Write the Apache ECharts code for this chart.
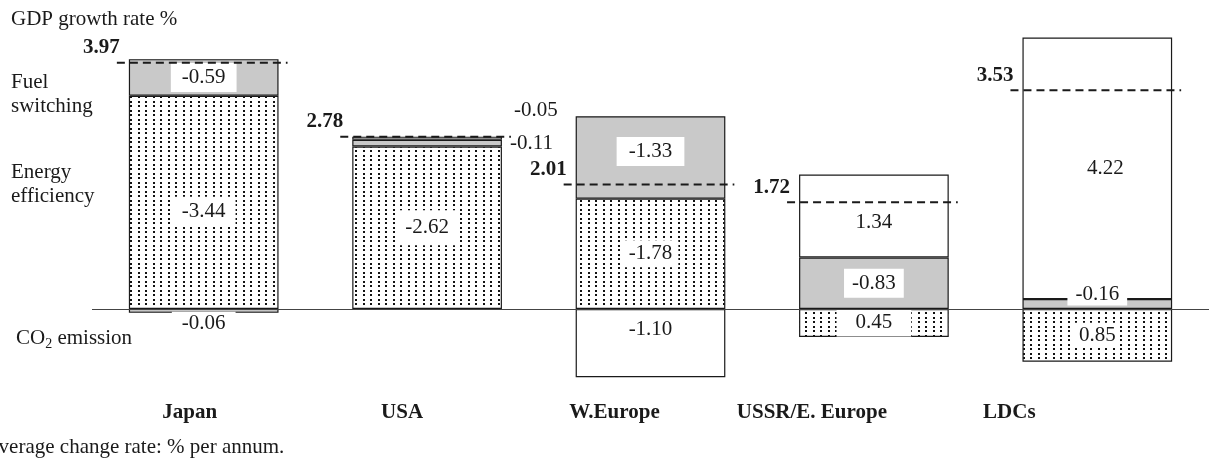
<!DOCTYPE html>
<html>
<head>
<meta charset="utf-8">
<style>
  html, body { margin: 0; padding: 0; background: #fff; }
  #chart { width: 1209px; height: 461px; }
</style>
<script src="https://cdn.jsdelivr.net/npm/echarts@6/dist/echarts.min.js"></script>
</head>
<body>
<div id="chart"></div>
<script>
  const categories = ['Japan', 'USA', 'W.Europe', 'USSR/E. Europe', 'LDCs'];
  const gdpGrowth = [3.97, 2.78, 2.01, 1.72, 3.53];

  // segment heights as drawn: above the zero line positive, below negative
  const energyEfficiency = [3.44, 2.62, 1.78, -0.45, -0.85];
  const fuelSwitching = [0.59, 0.11, 1.33, 0.83, 0.16];
  const co2Emission = [-0.06, 0.05, -1.10, 1.34, 4.22];

  // numbers printed on the segments
  const energyLabels = ['-3.44', '-2.62', '-1.78', '0.45', '0.85'];
  const fuelLabels = ['-0.59', '-0.11', '-1.33', '-0.83', '-0.16'];
  const co2Labels = ['-0.06', '-0.05', '-1.10', '1.34', '4.22'];

  const FONT = '"Liberation Serif", "DejaVu Serif", serif';
  const FS = 21;
  const BAR_RATIO = 0.67;
  const INK = '#1a1a1a';

  // per-label placement tweaks
  const energyTweak = [{ offset: [0, 9] }, { padding: [7, 9] }, { padding: [3, 6] }, { padding: [3, 19] }, { padding: [2, 4] }];
  const fuelTweak = [
    { padding: [4, 11] },
    { position: 'right', distance: 8, padding: 0 },
    { offset: [0, -6], padding: [4, 12] },
    { padding: [4, 8] },
    { offset: [0, -10], padding: [1, 8] }
  ];
  const co2Tweak = [
    { position: 'bottom', distance: -1, padding: [1, 10] },
    { position: 'right', distance: 12, offset: [0, -28], padding: 0 },
    { position: 'insideTop', distance: 6 },
    { offset: [0, 6] },
    { offset: [8, 0] }
  ];
  const nameShift = [-14, -25, -36, -62, -88];

  // dotted fill
  const dots = document.createElement('canvas');
  dots.width = 15; dots.height = 9;
  const ctx = dots.getContext('2d');
  ctx.fillStyle = '#fff';
  ctx.fillRect(0, 0, 15, 9);
  ctx.fillStyle = '#111';
  [[3, 2], [10, 2], [3, 6], [10, 6]].forEach(d => ctx.fillRect(d[0], d[1], 2, 2));

  function barSeries(name, values, labels, tweaks, color) {
    return {
      name: name,
      type: 'bar',
      stack: 'total',
      barWidth: (BAR_RATIO * 100) + '%',
      itemStyle: { color: color, borderColor: INK, borderWidth: 1.2 },
      label: {
        show: true,
        position: 'inside',
        formatter: p => labels[p.dataIndex],
        fontFamily: FONT,
        fontSize: FS,
        color: INK,
        backgroundColor: '#fff',
        padding: [4, 10]
      },
      data: values.map((v, i) => ({ value: v, label: tweaks[i] }))
    };
  }

  const chart = echarts.init(document.getElementById('chart'));

  const eeSeries = barSeries('Energy efficiency', energyEfficiency, energyLabels, energyTweak, { image: dots, repeat: 'repeat' });
  eeSeries.markLine = {
    silent: true,
    symbol: 'none',
    label: { show: false },
    lineStyle: { color: '#444', width: 1.2, type: 'solid' },
    data: [{ yAxis: 0 }]
  };

  const rich = {};
  nameShift.forEach((s, i) => {
    rich['c' + i] = { fontFamily: FONT, fontSize: FS, fontWeight: 'bold', color: INK, padding: [0, -2 * s, 0, 0] };
  });

  chart.setOption({
    animation: false,
    grid: { left: 92, top: 30, width: 1121, height: 372 },
    xAxis: {
      type: 'category',
      data: categories,
      axisLine: { show: false },
      axisTick: { show: false },
      axisLabel: { interval: 0, margin: 0, formatter: (v, i) => '{c' + i + '|' + v + '}', rich: rich }
    },
    yAxis: { type: 'value', min: -1.5, max: 4.5, show: false },
    series: [
      eeSeries,
      barSeries('Fuel switching', fuelSwitching, fuelLabels, fuelTweak, '#c9c9c9'),
      barSeries('CO2 emission', co2Emission, co2Labels, co2Tweak, '#fff'),
      {
        type: 'custom',
        name: 'GDP growth rate',
        z: 5,
        data: gdpGrowth.map((v, i) => [i, v]),
        renderItem: (params, api) => {
          const p = api.coord([api.value(0), api.value(1)]);
          const half = api.size([1, 0])[0] * BAR_RATIO / 2;
          const x1 = p[0] - half - 12;
          const x2 = p[0] + half + 9;
          return {
            type: 'group',
            children: [
              { type: 'line', shape: { x1: x1, y1: p[1], x2: x2, y2: p[1] }, style: { stroke: INK, lineWidth: 2, lineDash: [8, 5] } },
              {
                type: 'text', x: x1 + 3, y: p[1] - 15,
                style: {
                  text: api.value(1).toFixed(2),
                  font: 'bold ' + FS + 'px ' + FONT,
                  fill: INK,
                  align: 'right', textAlign: 'right',
                  verticalAlign: 'middle', textVerticalAlign: 'middle'
                }
              }
            ]
          };
        }
      }
    ],
    graphic: [
      { type: 'text', x: 11, y: 19, style: { text: 'GDP growth rate %', font: FS + 'px ' + FONT, fill: INK, verticalAlign: 'middle' } },
      { type: 'text', x: 11, y: 82, style: { text: 'Fuel', font: FS + 'px ' + FONT, fill: INK, verticalAlign: 'middle' } },
      { type: 'text', x: 11, y: 106, style: { text: 'switching', font: FS + 'px ' + FONT, fill: INK, verticalAlign: 'middle' } },
      { type: 'text', x: 11, y: 172, style: { text: 'Energy', font: FS + 'px ' + FONT, fill: INK, verticalAlign: 'middle' } },
      { type: 'text', x: 11, y: 196, style: { text: 'efficiency', font: FS + 'px ' + FONT, fill: INK, verticalAlign: 'middle' } },
      {
        type: 'text', x: 16, y: 338,
        style: {
          text: '{a|CO}{b|2}{a| emission}',
          verticalAlign: 'middle',
          rich: {
            a: { fontFamily: FONT, fontSize: FS, fill: INK, color: INK, lineHeight: 26 },
            b: { fontFamily: FONT, fontSize: 14, fill: INK, color: INK, lineHeight: 26, verticalAlign: 'bottom' }
          }
        }
      },
      { type: 'text', x: -15, y: 447, style: { text: 'Average change rate: % per annum.', font: FS + 'px ' + FONT, fill: INK, verticalAlign: 'middle' } }
    ]
  });

  window.addEventListener('resize', () => chart.resize());
</script>
</body>
</html>
